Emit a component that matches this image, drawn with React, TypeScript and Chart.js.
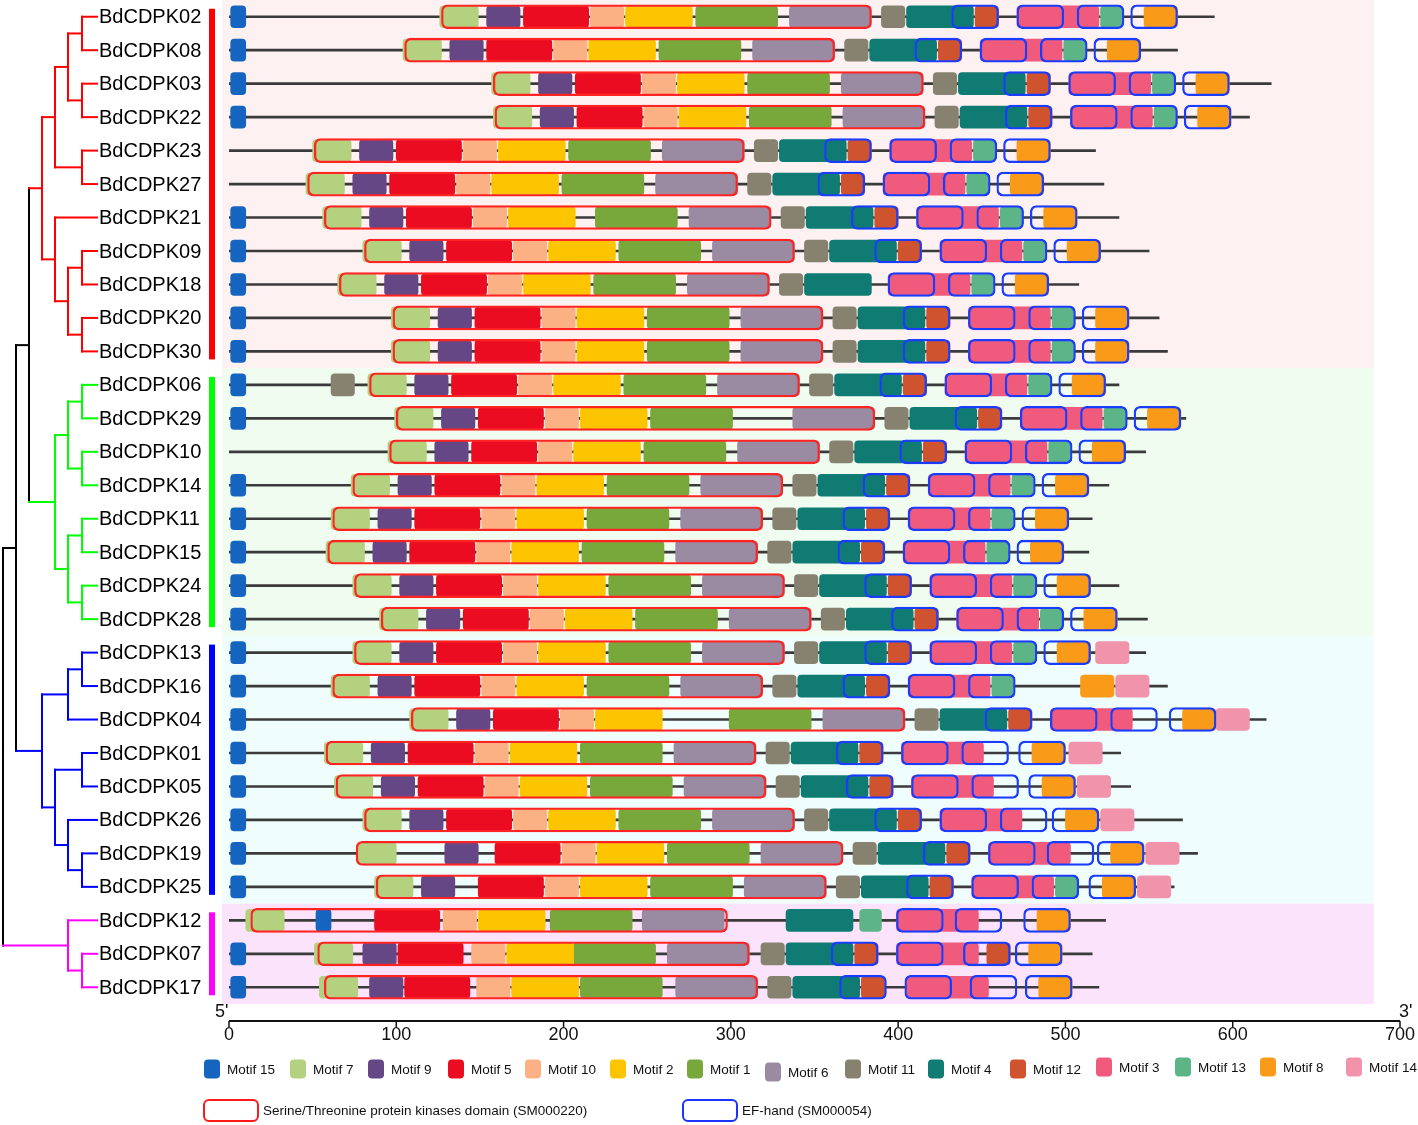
import React, { useEffect, useRef } from 'react';
import { Chart, registerables } from 'chart.js';

Chart.register(...registerables);

const GENES = ['BdCDPK02','BdCDPK08','BdCDPK03','BdCDPK22','BdCDPK23','BdCDPK27','BdCDPK21','BdCDPK09','BdCDPK18','BdCDPK20','BdCDPK30','BdCDPK06','BdCDPK29','BdCDPK10','BdCDPK14','BdCDPK11','BdCDPK15','BdCDPK24','BdCDPK28','BdCDPK13','BdCDPK16','BdCDPK04','BdCDPK01','BdCDPK05','BdCDPK26','BdCDPK19','BdCDPK25','BdCDPK12','BdCDPK07','BdCDPK17'];
const GENE_LENGTH = [589,567,623,610,518,523,532,550,508,556,561,532,572,548,526,516,514,532,549,548,561,620,533,539,570,579,565,524,516,520];
const X_TICKS = [0,100,200,300,400,500,600,700];

const M15_START = [1,1,1,1,null,null,1,1,1,1,1,1,1,null,1,1,1,1,1,1,1,1,1,1,1,1,1,52,1,1];
const M7_START = [126,104,157,158,50,46,56,80,65,97,97,83,99,95,73,61,58,74,90,74,61,108,57,63,80,77,87,10,51,54];
const M9_START = [154,132,185,186,78,74,84,108,93,125,125,111,127,123,101,89,86,102,118,102,89,136,85,91,108,129,115,null,80,84];
const M5_START = [176,154,207,208,100,96,106,130,115,147,147,133,149,145,123,111,108,124,140,124,111,158,107,113,130,159,149,87,101,105];
const M10_START = [216,194,247,248,140,136,146,170,155,187,187,173,189,185,163,151,148,164,180,164,151,198,147,153,170,199,189,128,145,148];
const M2_START = [237,215,268,269,161,157,167,191,176,208,208,194,210,206,184,172,169,185,201,185,172,219,168,174,191,220,210,149,166,169];
const M1_START = [279,257,310,311,203,199,219,233,218,250,250,236,252,248,226,214,211,227,243,227,214,299,210,216,233,262,252,192,206,210];
const M6_START = [335,313,366,367,259,255,275,289,274,306,306,292,337,304,282,270,267,283,299,283,270,355,266,272,289,318,308,247,262,267];
const M11_START = [390,368,421,422,314,310,330,344,329,361,361,347,392,359,337,325,322,338,354,338,325,410,321,327,344,373,363,null,318,322];
const M11_EXTRA = [null,null,null,null,null,null,null,null,null,null,null,61,null,null,null,null,null,null,null,null,null,null,null,null,null,null,null,null,null,null];
const M4_START = [405,383,436,437,329,325,345,359,344,376,376,362,407,374,352,340,337,353,369,353,340,425,336,342,359,388,378,333,333,337];
const M12_START = [446,424,477,478,370,366,386,400,null,417,417,403,448,415,393,381,378,394,410,394,381,466,377,383,400,429,419,null,374,378];
const M12_EXTRA = [null,null,null,null,null,null,null,null,null,null,null,null,null,null,null,null,null,null,null,null,null,null,null,null,null,null,null,null,453,null];
const M3_START = [471,449,502,503,395,391,411,425,394,442,442,428,473,440,418,406,403,419,435,419,406,491,402,408,425,454,444,399,399,405];
const M13_START = [521,499,552,553,445,441,461,475,444,492,492,478,523,490,468,456,453,469,485,469,456,null,null,null,null,null,494,377,null,null];
const M8_START = [547,525,578,579,471,467,487,501,470,518,518,504,549,516,494,482,479,495,511,495,509,570,480,486,500,527,522,483,478,484];
const M14_START = [null,null,null,null,null,null,null,null,null,null,null,null,null,null,null,null,null,null,null,518,530,590,502,507,521,548,543,null,null,null];

const EF1_START = [432,410,463,464,356,352,372,386,null,403,403,389,434,401,379,367,364,380,396,380,367,452,363,369,386,415,405,null,360,365];
const EF2_START = [471,449,502,503,395,391,411,425,394,442,442,428,473,440,418,406,403,419,435,419,406,491,402,408,425,454,444,399,399,404];
const EF3_START = [507,485,538,539,431,427,447,461,430,478,478,464,509,476,454,442,439,455,471,455,442,527,438,444,461,489,480,434,439,443];
const EF4_START = [539,517,570,571,463,459,479,493,462,510,510,496,541,508,486,474,471,487,503,487,null,562,472,478,492,519,514,475,470,476];
const EF_LENGTH = 28;
const KINASE_START = [127,105,158,159,51,47,57,81,66,98,98,84,100,96,74,62,59,75,91,75,62,109,58,64,81,76,88,13,53,57];
const KINASE_END = [384,362,415,416,308,304,324,338,323,355,355,341,386,353,331,319,316,332,348,332,319,404,315,321,338,367,357,298,311,316];

// motif name, length (aa), colour
const MOTIF_NAMES = ['Motif 15','Motif 7','Motif 9','Motif 5','Motif 10','Motif 2','Motif 1','Motif 6','Motif 11','Motif 4','Motif 12','Motif 3','Motif 13','Motif 8','Motif 14'];
const MOTIF_LENGTH = [9,23,20,39,20,40,49,49,14,40,14,49,13,20,20];
const MOTIF_COLORS = ['#1565c0','#b3d17e','#664785','#ec0c22','#fcb185','#fcc500','#78a83b','#9a8aa2','#878270','#0f7b73','#d0532f','#f05b7d','#5db587','#f99b19','#f193aa'];
const MOTIF_STARTS = [M15_START,M7_START,M9_START,M5_START,M10_START,M2_START,M1_START,M6_START,M11_START,M4_START,M12_START,M3_START,M13_START,M8_START,M14_START];

const GROUPS = [
  { first: 0, last: 10, bg: '#fdf1f1', color: '#ff0000' },
  { first: 11, last: 18, bg: '#f1fcf1', color: '#00ff00' },
  { first: 19, last: 26, bg: '#effdfd', color: '#0000ff' },
  { first: 27, last: 29, bg: '#fce3fc', color: '#ff00ff' },
];

type TNode = { x: number; c: string; k: (TNode | number)[] };
const R = '#ff0000', G = '#00ff00', B = '#0000ff', M = '#ff00ff', K = '#000000';
const RED_CLADE: TNode = { x: 42, c: R, k: [
  { x: 55, c: R, k: [ { x: 68, c: R, k: [ { x: 82, c: R, k: [0, 1] }, { x: 82, c: R, k: [2, 3] } ] }, { x: 82, c: R, k: [4, 5] } ] },
  { x: 55, c: R, k: [ 6, { x: 68, c: R, k: [ { x: 82, c: R, k: [7, 8] }, { x: 82, c: R, k: [9, 10] } ] } ] },
] };
const GREEN_CLADE: TNode = { x: 55, c: G, k: [
  { x: 68, c: G, k: [ { x: 82, c: G, k: [11, 12] }, { x: 82, c: G, k: [13, 14] } ] },
  { x: 68, c: G, k: [ { x: 82, c: G, k: [15, 16] }, { x: 82, c: G, k: [17, 18] } ] },
] };
const BLUE_CLADE: TNode = { x: 42, c: B, k: [
  { x: 68, c: B, k: [ { x: 82, c: B, k: [19, 20] }, 21 ] },
  { x: 55, c: B, k: [ { x: 82, c: B, k: [22, 23] }, { x: 68, c: B, k: [24, { x: 82, c: B, k: [25, 26] }] } ] },
] };
const MAGENTA_CLADE: TNode = { x: 68, c: M, k: [27, { x: 82, c: M, k: [28, 29] }] };
const TREE: TNode = { x: 3, c: K, k: [ { x: 16, c: K, k: [ { x: 29, c: K, k: [RED_CLADE, GREEN_CLADE] }, BLUE_CLADE ] }, MAGENTA_CLADE ] };
const LEAF_END = 97;

const LEGEND_SWATCH_X = [204,290,368,448,525,610,687,765,845,928,1010,1096,1175,1260,1346];
const LEGEND_DY = [0,0,0,0,0,0,0,3,0,0,0,-2,-2,-2,-2];

const FONT = '"Liberation Sans", Arial, sans-serif';

function span(starts: (number | null)[], len: number) {
  return starts.map((s) => (s === null ? null : [s, s + len]));
}

function rrect(ctx: CanvasRenderingContext2D, x: number, y: number, w: number, h: number, r: number) {
  ctx.beginPath();
  ctx.moveTo(x + r, y);
  ctx.arcTo(x + w, y, x + w, y + h, r);
  ctx.arcTo(x + w, y + h, x, y + h, r);
  ctx.arcTo(x, y + h, x, y, r);
  ctx.arcTo(x, y, x + w, y, r);
  ctx.closePath();
}

const decorPlugin = {
  id: 'decor',
  beforeDatasetsDraw(chart: any) {
    const ctx: CanvasRenderingContext2D = chart.ctx;
    const y = chart.scales.y;
    const x = chart.scales.x;
    const yc = (i: number) => y.getPixelForValue(i);
    const half = (yc(1) - yc(0)) / 2;
    const left = x.getPixelForValue(-4.2);
    const right = x.getPixelForValue(684.4);
    ctx.save();
    GROUPS.forEach((g) => {
      const top = g.first === 0 ? 0 : (yc(g.first - 1) + yc(g.first)) / 2;
      const bottom = g.last === GENES.length - 1 ? yc(g.last) + half : (yc(g.last) + yc(g.last + 1)) / 2;
      ctx.fillStyle = g.bg;
      ctx.fillRect(left, top, right - left, bottom - top);
    });
    ctx.restore();
  },
  afterDatasetsDraw(chart: any) {
    const ctx: CanvasRenderingContext2D = chart.ctx;
    const y = chart.scales.y;
    const x = chart.scales.x;
    const yc = (i: number) => y.getPixelForValue(i);
    ctx.save();

    // tree
    const nodeY = (n: TNode | number): number => {
      if (typeof n === 'number') return yc(n);
      return (nodeY(n.k[0]) + nodeY(n.k[n.k.length - 1])) / 2;
    };
    ctx.lineWidth = 2;
    ctx.lineCap = 'square';
    const line = (x1: number, y1: number, x2: number, y2: number, c: string) => {
      ctx.strokeStyle = c;
      ctx.beginPath();
      ctx.moveTo(x1, y1);
      ctx.lineTo(x2, y2);
      ctx.stroke();
    };
    const drawNode = (n: TNode, px: number | null) => {
      const ny = nodeY(n);
      if (px !== null) line(px, ny, n.x, ny, n.c);
      line(n.x, nodeY(n.k[0]), n.x, nodeY(n.k[n.k.length - 1]), n.c);
      n.k.forEach((kid) => {
        if (typeof kid === 'number') line(n.x, yc(kid), LEAF_END, yc(kid), n.c);
        else drawNode(kid, n.x);
      });
    };
    drawNode(TREE, null);
    ctx.lineCap = 'butt';

    // labels
    ctx.fillStyle = '#000';
    ctx.font = `20px ${FONT}`;
    ctx.textAlign = 'left';
    ctx.textBaseline = 'middle';
    GENES.forEach((g, i) => ctx.fillText(g, 99, yc(i) + 1));

    // clade bars
    GROUPS.forEach((g) => {
      ctx.fillStyle = g.color;
      const t = yc(g.first) - 8;
      const b = yc(g.last) + 8;
      ctx.fillRect(209, t, 6, b - t);
    });

    // x axis
    const ay = 1021;
    const x0 = x.getPixelForValue(X_TICKS[0]);
    const x1 = x.getPixelForValue(X_TICKS[X_TICKS.length - 1]);
    ctx.strokeStyle = '#111';
    ctx.lineWidth = 2;
    ctx.beginPath();
    ctx.moveTo(x0, ay);
    ctx.lineTo(x1, ay);
    ctx.stroke();
    ctx.lineWidth = 1.5;
    ctx.fillStyle = '#111';
    ctx.font = `18px ${FONT}`;
    ctx.textAlign = 'center';
    ctx.textBaseline = 'middle';
    X_TICKS.forEach((v) => {
      const px = x.getPixelForValue(v);
      ctx.beginPath();
      ctx.moveTo(px, ay);
      ctx.lineTo(px, ay + 6);
      ctx.stroke();
      ctx.fillText(String(v), px, ay + 14);
    });
    ctx.textAlign = 'left';
    ctx.fillText("5'", x0 - 14, ay - 9);
    ctx.fillText("3'", x1 - 1, ay - 9);

    // legend
    ctx.font = `13.5px ${FONT}`;
    ctx.textBaseline = 'middle';
    MOTIF_NAMES.forEach((name, i) => {
      const sx = LEGEND_SWATCH_X[i];
      const cy = 1069 + LEGEND_DY[i];
      ctx.fillStyle = MOTIF_COLORS[i];
      rrect(ctx, sx, cy - 9.5, 16, 19, 4);
      ctx.fill();
      ctx.fillStyle = '#111';
      ctx.fillText(name, sx + 23, cy + 1);
    });
    const outlineItem = (sx: number, color: string, text: string) => {
      ctx.strokeStyle = color;
      ctx.lineWidth = 2;
      rrect(ctx, sx, 1100, 54, 21, 5);
      ctx.stroke();
      ctx.fillStyle = '#111';
      ctx.fillText(text, sx + 59, 1111);
    };
    outlineItem(204, '#ff1a1a', 'Serine/Threonine protein kinases domain (SM000220)');
    outlineItem(683, '#1a33ff', 'EF-hand (SM000054)');

    ctx.restore();
  },
};

export default function App() {
  const ref = useRef<HTMLCanvasElement | null>(null);
  useEffect(() => {
    document.body.style.margin = '0';
    const canvas = ref.current;
    if (!canvas) return;

    const outline = (label: string, data: any[], color: string) => ({
      label,
      data,
      backgroundColor: 'rgba(0,0,0,0)',
      borderColor: color,
      borderWidth: 1.6,
      borderRadius: 6,
      borderSkipped: false,
      barThickness: 24,
      grouped: false,
    });

    const datasets: any[] = [
      outline('EF-hand 1', span(EF1_START, EF_LENGTH), '#1a3cff'),
      outline('EF-hand 2', span(EF2_START, EF_LENGTH), '#1a3cff'),
      outline('EF-hand 3', span(EF3_START, EF_LENGTH), '#1a3cff'),
      outline('EF-hand 4', span(EF4_START, EF_LENGTH), '#1a3cff'),
      outline('Serine/Threonine protein kinases domain', KINASE_START.map((s, i) => [s, KINASE_END[i]]), '#ff2424'),
    ];
    MOTIF_NAMES.forEach((name, i) => {
      datasets.push({
        label: name,
        data: span(MOTIF_STARTS[i], MOTIF_LENGTH[i]),
        backgroundColor: MOTIF_COLORS[i],
        borderWidth: 0,
        borderRadius: 4,
        borderSkipped: false,
        barThickness: 22,
        grouped: false,
      });
    });
    datasets.push({
      label: 'Motif 11 (2nd)',
      data: span(M11_EXTRA, MOTIF_LENGTH[8]),
      backgroundColor: MOTIF_COLORS[8],
      borderWidth: 0, borderRadius: 4, borderSkipped: false, barThickness: 22, grouped: false,
    });
    datasets.push({
      label: 'Motif 12 (2nd)',
      data: span(M12_EXTRA, MOTIF_LENGTH[10]),
      backgroundColor: MOTIF_COLORS[10],
      borderWidth: 0, borderRadius: 4, borderSkipped: false, barThickness: 22, grouped: false,
    });
    datasets.push({
      label: 'protein',
      data: GENE_LENGTH.map((l) => [0, l]),
      backgroundColor: '#3a3a3a',
      borderWidth: 0,
      borderRadius: 0,
      barThickness: 2,
      grouped: false,
    });

    const chart = new Chart(canvas, {
      type: 'bar',
      data: { labels: GENES, datasets },
      options: {
        indexAxis: 'y',
        responsive: false,
        animation: false,
        layout: { padding: { left: 229, right: 18, top: 0, bottom: 121 } },
        scales: {
          x: { type: 'linear', min: 0, max: 700, display: false, ticks: { stepSize: 100 } },
          y: { type: 'category', display: false, offset: true },
        },
        plugins: { legend: { display: false }, tooltip: { enabled: false } },
      },
      plugins: [decorPlugin],
    } as any);
    return () => chart.destroy();
  }, []);

  return (
    <div style={{ width: 1418, height: 1125 }}>
      <canvas ref={ref} width={1418} height={1125} style={{ display: 'block' }} />
    </div>
  );
}
